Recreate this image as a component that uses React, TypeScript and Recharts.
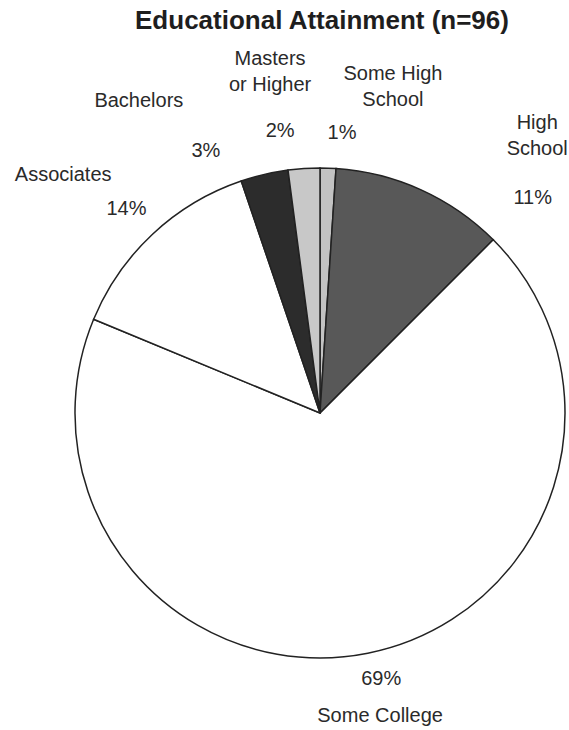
import React from "react";
import { PieChart, Pie, Cell } from "recharts";

// ---- data ----
const categories = [
  "Some High School",
  "High School",
  "Some College",
  "Associates",
  "Bachelors",
  "Masters or Higher",
];
const categoryLabelLines = [
  ["Some High", "School"],
  ["High", "School"],
  ["Some College"],
  ["Associates"],
  ["Bachelors"],
  ["Masters", "or Higher"],
];
const counts = [1, 11, 66, 13, 3, 2];
const titleText = "Educational Attainment (n=96)";

// ---- styling / layout (kept apart from the data) ----
const sliceFills = ["#c3c3c3", "#585858", "#ffffff", "#ffffff", "#2c2c2c", "#c8c8c8"];
// angle shift (deg, clockwise) and radius for percent labels and name labels
const pctLayout = [
  { shift: 2.6, r: 282 },
  { shift: 20.2, r: 303 },
  { shift: -1.75, r: 272 },
  { shift: -0.2, r: 282 },
  { shift: -10.3, r: 287 },
  { shift: -4.25, r: 286 },
];
const nameLayout = [
  { shift: 10.7, r: 335 },
  { shift: 13.6, r: 353 },
  { shift: 0.0, r: 308 },
  { shift: -3.9, r: 351 },
  { shift: -16.9, r: 362 },
  { shift: -4.55, r: 346 },
];

const data = categories.map((name, i) => ({ name, value: counts[i] }));
const total = counts.reduce((a, b) => a + b, 0);

const FONT = "'Liberation Sans', Arial, Helvetica, sans-serif";
const TEXT_COLOR = "#2a2a2a";
const LINE_H = 26;

function renderLabel(props: any) {
  const { cx, cy, midAngle, index, value } = props;
  const theta = 90 - midAngle; // clockwise from 12 o'clock
  const pos = (shift: number, r: number) => {
    const t = ((theta + shift) * Math.PI) / 180;
    return { x: cx + r * Math.sin(t), y: cy - r * Math.cos(t) };
  };
  const p = pos(pctLayout[index].shift, pctLayout[index].r);
  const n = pos(nameLayout[index].shift, nameLayout[index].r);
  const lines = categoryLabelLines[index];
  const startY = n.y - ((lines.length - 1) * LINE_H) / 2;
  const pct = Math.round((value / total) * 100) + "%";
  return (
    <g key={`lbl-${index}`}>
      <text
        x={p.x}
        y={p.y}
        textAnchor="middle"
        dominantBaseline="central"
        fontFamily={FONT}
        fontSize={20}
        fill={TEXT_COLOR}
      >
        {pct}
      </text>
      <text
        textAnchor="middle"
        dominantBaseline="central"
        fontFamily={FONT}
        fontSize={20}
        fill={TEXT_COLOR}
      >
        {lines.map((ln, k) => (
          <tspan key={k} x={n.x} y={startY + k * LINE_H}>
            {ln}
          </tspan>
        ))}
      </text>
    </g>
  );
}

export default function App() {
  return (
    <div style={{ position: "absolute", left: 0, top: 0, width: 569, height: 730, background: "#fff" }}>
      <div
        style={{
          position: "absolute",
          left: 0,
          top: 4,
          width: 644,
          textAlign: "center",
          fontFamily: FONT,
          fontWeight: "bold",
          fontSize: 26,
          lineHeight: "32px",
          color: "#1e1e1e",
          whiteSpace: "nowrap",
        }}
      >
        {titleText}
      </div>
      <PieChart
        width={569}
        height={730}
        margin={{ top: 0, right: 0, bottom: 0, left: 0 }}
        style={{ position: "absolute", left: 0, top: 0 }}
      >
        <Pie
          data={data}
          dataKey="value"
          nameKey="name"
          cx={320}
          cy={413}
          outerRadius={245}
          startAngle={90}
          endAngle={-270}
          stroke="#222"
          strokeWidth={1.5}
          label={renderLabel}
          labelLine={false}
          isAnimationActive={false}
        >
          {data.map((d, i) => (
            <Cell key={d.name} fill={sliceFills[i]} />
          ))}
        </Pie>
      </PieChart>
    </div>
  );
}
